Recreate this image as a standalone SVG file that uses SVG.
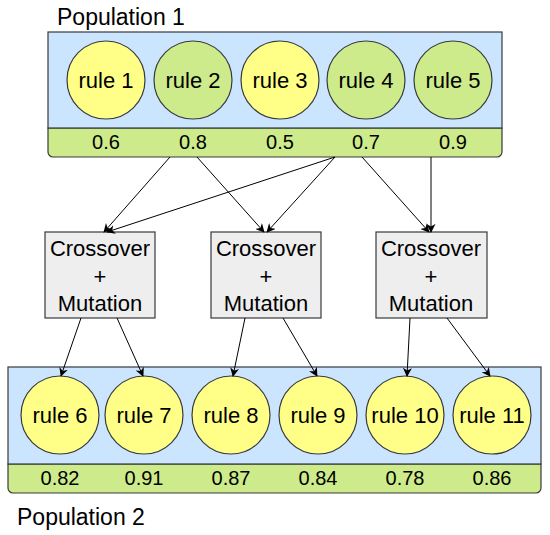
<svg xmlns="http://www.w3.org/2000/svg" width="550" height="535" viewBox="0 0 550 535">
<defs>
<marker id="arr" viewBox="0 0 10 10" refX="9" refY="5" markerWidth="9" markerHeight="9" markerUnits="userSpaceOnUse" orient="auto">
<path d="M0,0 L10,5 L0,10 L3,5 Z" fill="#000"/>
</marker>
</defs>
<style>
text{font-family:"Liberation Sans",Arial,sans-serif;fill:#000;text-anchor:middle}
.pop{fill:#cce5ff;stroke:#36393d;stroke-width:1.2}
.band{fill:#cdeb8b;stroke:#36393d;stroke-width:1.2}
.y{fill:#ffff88;stroke:#36393d;stroke-width:1.2}
.g{fill:#cdeb8b;stroke:#36393d;stroke-width:1.2}
.box{fill:#eeeeee;stroke:#36393d;stroke-width:1.2}
.r{font-size:22px}
.v{font-size:20px}
.lbl{font-size:23px;text-anchor:start}
.c{stroke:#000;stroke-width:1;fill:none;marker-end:url(#arr)}
</style>
<text class="lbl" x="57" y="25">Population 1</text>
<g id="population1">
<path class="band" d="M48,128 H502 V152 a5,5 0 0 1 -5,5 H53 a5,5 0 0 1 -5,-5 Z"/>
<rect class="pop" x="48" y="32" width="454" height="96"/>
</g>
<g id="rule1"><circle class="y" cx="106" cy="80" r="39"/><text class="r" x="106" y="88">rule 1</text><text class="v" x="106" y="149">0.6</text></g>
<g id="rule2"><circle class="g" cx="193" cy="80" r="39"/><text class="r" x="193" y="88">rule 2</text><text class="v" x="193" y="149">0.8</text></g>
<g id="rule3"><circle class="y" cx="280" cy="80" r="39"/><text class="r" x="280" y="88">rule 3</text><text class="v" x="280" y="149">0.5</text></g>
<g id="rule4"><circle class="g" cx="366" cy="80" r="39"/><text class="r" x="366" y="88">rule 4</text><text class="v" x="366" y="149">0.7</text></g>
<g id="rule5"><circle class="g" cx="453" cy="80" r="39"/><text class="r" x="453" y="88">rule 5</text><text class="v" x="453" y="149">0.9</text></g>

<g id="cm1"><rect class="box" x="45" y="232" width="110" height="86"/><text class="r" x="100" y="256">Crossover</text><text class="r" x="100" y="284">+</text><text class="r" x="100" y="311">Mutation</text></g>
<g id="cm2"><rect class="box" x="211" y="232" width="110" height="86"/><text class="r" x="266" y="256">Crossover</text><text class="r" x="266" y="284">+</text><text class="r" x="266" y="311">Mutation</text></g>
<g id="cm3"><rect class="box" x="376" y="232" width="111" height="86"/><text class="r" x="431" y="256">Crossover</text><text class="r" x="431" y="284">+</text><text class="r" x="431" y="311">Mutation</text></g>

<g id="population2">
<path class="band" d="M8,464 H541 V488 a5,5 0 0 1 -5,5 H13 a5,5 0 0 1 -5,-5 Z"/>
<rect class="pop" x="8" y="367" width="533" height="97"/>
</g>
<g id="rule6"><circle class="y" cx="60" cy="415" r="39"/><text class="r" x="60" y="423">rule 6</text><text class="v" x="60" y="485">0.82</text></g>
<g id="rule7"><circle class="y" cx="144" cy="415" r="39"/><text class="r" x="144" y="423">rule 7</text><text class="v" x="144" y="485">0.91</text></g>
<g id="rule8"><circle class="y" cx="231" cy="415" r="39"/><text class="r" x="231" y="423">rule 8</text><text class="v" x="231" y="485">0.87</text></g>
<g id="rule9"><circle class="y" cx="318" cy="415" r="39"/><text class="r" x="318" y="423">rule 9</text><text class="v" x="318" y="485">0.84</text></g>
<g id="rule10"><circle class="y" cx="405" cy="415" r="39"/><text class="r" x="405" y="423">rule 10</text><text class="v" x="405" y="485">0.78</text></g>
<g id="rule11"><circle class="y" cx="492" cy="415" r="39"/><text class="r" x="492" y="423">rule 11</text><text class="v" x="492" y="485">0.86</text></g>
<text class="lbl" x="17" y="525">Population 2</text>

<g id="connectors">
<line class="c" x1="170" y1="157" x2="104" y2="232"/>
<line class="c" x1="197" y1="157" x2="264" y2="232"/>
<line class="c" x1="335" y1="157" x2="107" y2="232"/>
<line class="c" x1="335" y1="157" x2="267" y2="232"/>
<line class="c" x1="362" y1="157" x2="429" y2="232"/>
<line class="c" x1="431" y1="157" x2="431" y2="232"/>
<line class="c" x1="81" y1="318" x2="61" y2="376"/>
<line class="c" x1="117" y1="318" x2="143" y2="376"/>
<line class="c" x1="245" y1="318" x2="233" y2="376"/>
<line class="c" x1="283" y1="318" x2="317" y2="376"/>
<line class="c" x1="410" y1="318" x2="407" y2="376"/>
<line class="c" x1="447" y1="318" x2="490" y2="376"/>
</g>
</svg>
